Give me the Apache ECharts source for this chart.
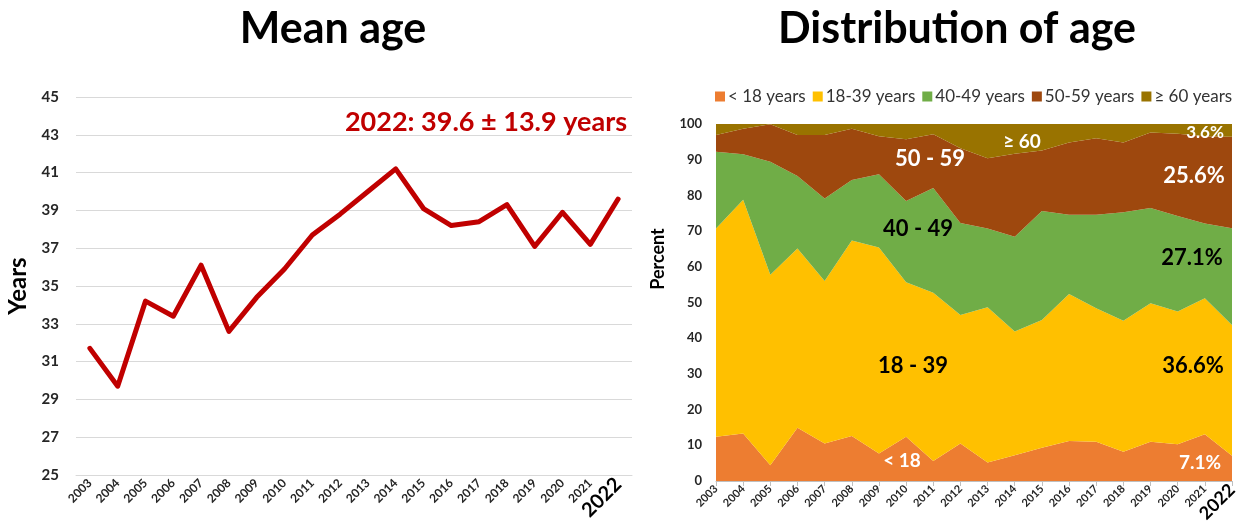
<!DOCTYPE html>
<html><head><meta charset="utf-8">
<script src="https://cdn.jsdelivr.net/npm/echarts@6/dist/echarts.min.js"></script>
<style>html,body{margin:0;padding:0;background:#fff}#c{width:1256px;height:526px}</style>
</head><body><div id="c"></div>
<script>
const years = ['2003','2004','2005','2006','2007','2008','2009','2010','2011','2012','2013','2014','2015','2016','2017','2018','2019','2020','2021','2022'];
const meanAge = [31.7,29.7,34.2,33.4,36.1,32.6,34.4,35.9,37.7,38.8,40.0,41.2,39.1,38.2,38.4,39.3,37.1,38.9,37.2,39.6];
const ageTicksMin = 25, ageTicksMax = 45, ageTickStep = 2;
const seriesNames = ['< 18 years','18-39 years','40-49 years','50-59 years','\u2265 60 years'];
const pctUnder18 = [12.4,13.3,4.4,14.9,10.5,12.6,7.7,12.4,5.6,10.5,5.2,7.2,9.3,11.2,11.0,8.2,11.0,10.3,13.1,7.1];
const pct18to39  = [58.3,65.5,53.4,50.2,45.5,54.8,57.7,43.3,47.1,36.0,43.5,34.7,35.8,41.2,37.4,36.7,38.8,37.2,38.1,36.6];
const pct40to49  = [21.5,12.7,31.6,20.3,23.1,16.9,20.5,22.7,29.4,25.8,22.0,26.5,30.5,22.2,26.2,30.4,26.7,26.7,20.9,27.1];
const pct50to59  = [4.7,7.2,10.5,11.5,17.8,14.4,10.7,17.3,15.0,20.9,19.7,23.3,17.0,20.2,21.4,19.5,21.1,23.1,24.5,25.6];
const pct60plus  = [3.1,1.3,0.1,3.1,3.1,1.3,3.4,4.3,2.9,6.8,9.6,8.3,7.4,5.2,4.0,5.2,2.4,2.7,3.4,3.6];
const areaColors = ['#ED7D31','#FFC000','#70AD47','#9E480E','#997300'];

const FONT = 'Lato, "Open Sans", sans-serif';
const chart = echarts.init(document.getElementById('c'), null, {renderer:'canvas'});

const xLabel = (big, small) => ({
  rotate: 45, interval: 0, margin: 6, color: '#262626', fontFamily: FONT, fontWeight: 'bold', fontSize: small,
  formatter: v => v === '2022' ? '{b|' + v + '}' : v,
  rich: { b: { fontSize: big, fontWeight: 'bold', fontFamily: FONT, color: '#000' } }
});

const pctData = [pctUnder18, pct18to39, pct40to49, pct50to59, pct60plus];

const annot = (x, y, text, size, fill, rot) => ({
  type: 'text', x: x, y: y, z: 100, rotation: rot || 0,
  style: { text: text, font: 'bold ' + size + 'px ' + FONT, fill: fill, align: 'center', verticalAlign: 'middle' }
});

chart.setOption({
  animation: false,
  backgroundColor: '#fff',
  title: [
    { text: 'Mean age', left: 328, top: 3, textAlign: 'center', textStyle: { fontFamily: FONT, fontWeight: 'bold', fontSize: 43, color: '#000' } },
    { text: 'Distribution of age', left: 952, top: 3, textAlign: 'center', textStyle: { fontFamily: FONT, fontWeight: 'bold', fontSize: 43, color: '#000' } }
  ],
  legend: {
    data: seriesNames, left: 710, top: 83, icon: 'rect', itemWidth: 10, itemHeight: 10, itemGap: 7,
    textStyle: { fontFamily: FONT, fontSize: 17, color: '#333', padding: [0,0,0,-2] }
  },
  grid: [
    { left: 76, right: 624, top: 97, bottom: 51 },
    { left: 716, right: 24, top: 124, bottom: 45 }
  ],
  xAxis: [
    { type: 'category', gridIndex: 0, data: years, boundaryGap: true,
      axisLine: { lineStyle: { color: '#d9d9d9' } }, axisTick: { show: false },
      axisLabel: xLabel(20, 12) },
    { type: 'category', gridIndex: 1, data: years, boundaryGap: false,
      axisLine: { lineStyle: { color: '#bfbfbf' } }, axisTick: { show: true, length: 5, lineStyle: { color: '#bfbfbf' } },
      axisLabel: xLabel(18, 11) }
  ],
  yAxis: [
    { type: 'value', gridIndex: 0, min: ageTicksMin, max: ageTicksMax, interval: ageTickStep,
      name: 'Years', nameLocation: 'middle', nameGap: 46, nameRotate: 90,
      nameTextStyle: { fontFamily: FONT, fontWeight: 'bold', fontSize: 24, color: '#000' },
      axisLine: { show: false }, axisTick: { show: false },
      axisLabel: { margin: 17, color: '#262626', fontFamily: FONT, fontWeight: 'bold', fontSize: 15 },
      splitLine: { lineStyle: { color: '#d9d9d9', width: 1 } } },
    { type: 'value', gridIndex: 1, min: 0, max: 100, interval: 10,
      axisLine: { show: false }, axisTick: { show: false },
      axisLabel: { margin: 14, color: '#262626', fontFamily: FONT, fontWeight: 'bold', fontSize: 13 },
      splitLine: { show: false } }
  ],
  series: [
    { type: 'line', xAxisIndex: 0, yAxisIndex: 0, data: meanAge, showSymbol: false, symbol: 'none',
      lineStyle: { color: '#C00000', width: 5, join: 'round', cap: 'round' }, z: 5 }
  ].concat(pctData.map((d, i) => ({
    name: seriesNames[i], type: 'line', xAxisIndex: 1, yAxisIndex: 1, stack: 'age', data: d,
    symbol: 'none', showSymbol: false, itemStyle: { color: areaColors[i] },
    lineStyle: { width: 0 }, areaStyle: { color: areaColors[i], opacity: 1 }
  }))),
  graphic: [
    annot(658, 259, 'Percent', 18, '#000', Math.PI / 2),
    annot(486, 122, '2022: 39.6 \u00b1 13.9 years', 27, '#C00000'),
    annot(930, 159, '50 - 59', 22, '#fff'),
    annot(918, 229, '40 - 49', 22, '#000'),
    annot(913, 366, '18 - 39', 22, '#000'),
    annot(902, 461, '< 18', 19, '#fff'),
    annot(1022, 142, '\u2265 60', 19, '#fff'),
    annot(1205, 133, '3.6%', 17, '#fff'),
    annot(1194, 176, '25.6%', 22, '#fff'),
    annot(1192, 258, '27.1%', 22, '#000'),
    annot(1193, 366, '36.6%', 22, '#000'),
    annot(1200, 463, '7.1%', 19, '#fff')
  ]
});
</script></body></html>
